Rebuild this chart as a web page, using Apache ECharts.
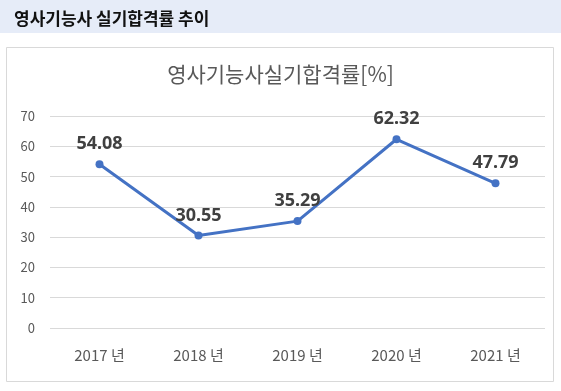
<!DOCTYPE html>
<html><head><meta charset="utf-8">
<script src="https://cdn.jsdelivr.net/npm/echarts@6/dist/echarts.min.js"></script>
<style>html,body{margin:0;padding:0;background:#fff}#c{width:561px;height:391px}</style>
</head><body><div id="c"></div>
<script>
const categories = ['2017 년','2018 년','2019 년','2020 년','2021 년'];
const passRates = [54.08, 30.55, 35.29, 62.32, 47.79];
const yTicks = [0,10,20,30,40,50,60,70];

const chart = echarts.init(document.getElementById('c'));
chart.setOption({
  animation:false,
  graphic:[
    {type:'rect', shape:{x:0,y:0,width:561,height:33}, style:{fill:'#E6ECF8'}, z:0},
    {type:'rect', shape:{x:6.5,y:47.5,width:547,height:334}, style:{fill:'#fff',stroke:'#D9D9D9',lineWidth:1}, z:0}
  ],
  title:[
    {text:'영사기능사 실기합격률 추이', left:9, top:5,
     textStyle:{fontFamily:'Noto Sans CJK KR', fontSize:17, fontWeight:'bold', color:'#111'}},
    {text:'영사기능사실기합격률[%]', left:'center', top:59,
     textStyle:{fontFamily:'Noto Sans CJK KR', fontSize:21, fontWeight:'normal', color:'#595959'}}
  ],
  grid:{left:50, right:16, top:116, bottom:63},
  xAxis:{type:'category', data:categories,
    axisLine:{show:false}, axisTick:{show:false},
    axisLabel:{color:'#595959', fontSize:15, margin:20, fontFamily:'Noto Sans CJK KR'}},
  yAxis:{type:'value', min:yTicks[0], max:yTicks[yTicks.length-1], interval:10,
    axisLine:{show:false}, axisTick:{show:false},
    splitLine:{lineStyle:{color:'#D9D9D9'}},
    axisLabel:{color:'#595959', fontSize:13, margin:15, fontFamily:'Noto Sans CJK KR'}},
  series:[{type:'line', data:passRates, color:'#4472C4',
    lineStyle:{width:3, color:'#4472C4'}, symbol:'circle', symbolSize:8,
    itemStyle:{color:'#4472C4'},
    label:{show:true, position:'top', distance:7, fontSize:18, fontWeight:'bold', color:'#404040',
      fontFamily:'Noto Sans', formatter:p=>p.value.toFixed(2)}}]
});
</script></body></html>
